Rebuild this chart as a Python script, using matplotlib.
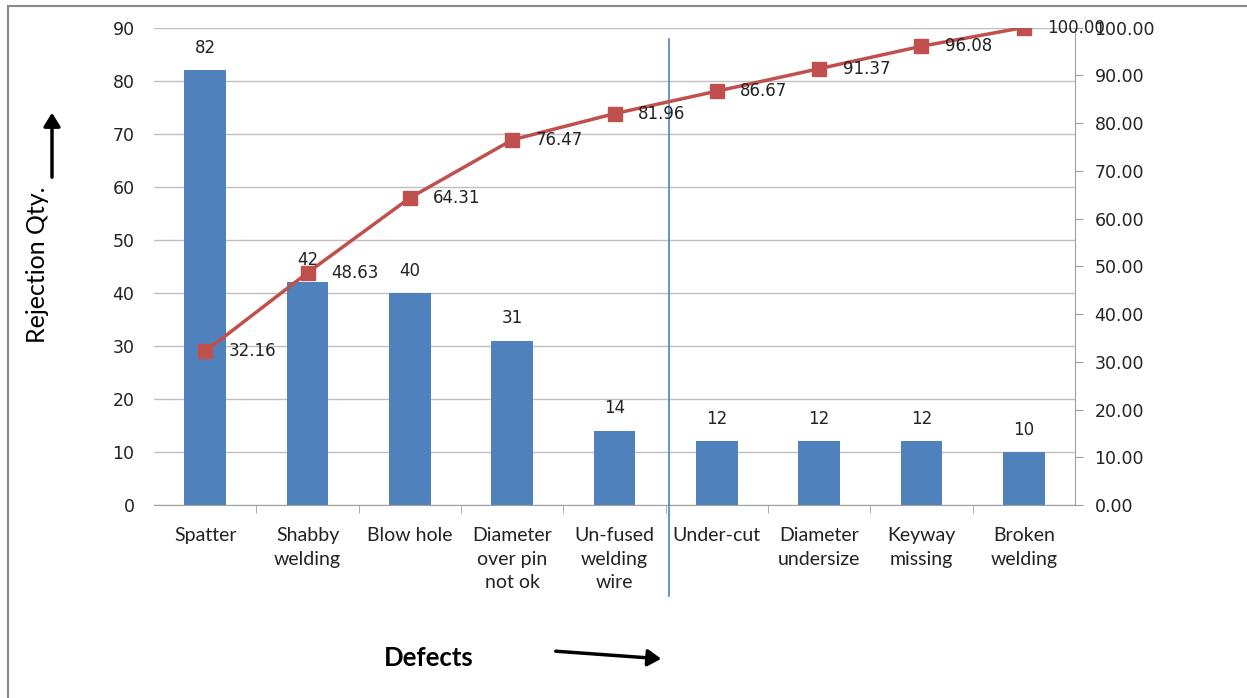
import matplotlib
matplotlib.use("Agg")
import matplotlib.pyplot as plt
from matplotlib.patches import Rectangle, FancyArrowPatch

categories = ["Spatter", "Shabby\nwelding", "Blow hole", "Diameter\nover pin\nnot ok",
              "Un-fused\nwelding\nwire", "Under-cut", "Diameter\nundersize",
              "Keyway\nmissing", "Broken\nwelding"]
rejections = [82, 42, 40, 31, 14, 12, 12, 12, 10]
cumulative_pct = [32.16, 48.63, 64.31, 76.47, 81.96, 86.67, 91.37, 96.08, 100.00]
left_ticks = list(range(0, 91, 10))
right_ticks = list(range(0, 101, 10))

bar_color = "#4F81BD"
line_color = "#C0504D"
grid_color = "#BFBFBF"
axis_color = "#A0A0A0"
label_font = ["Lato", "DejaVu Sans"]
num_font = ["DejaVu Sans"]

fig = plt.figure(figsize=(12.47, 6.98), dpi=100)
ax = fig.add_axes([154 / 1247, 0.2765, (1075 - 154) / 1247, 0.9606 - 0.2765])
x = list(range(len(categories)))

ax.bar(x, rejections, width=0.41, color=bar_color, zorder=2)
ax.set_xlim(-0.5, len(categories) - 0.5)
ax.set_ylim(0, 90)
ax.set_yticks(left_ticks)
ax.yaxis.grid(True, color=grid_color, linewidth=1, zorder=0)
ax.set_axisbelow(True)
for s in ("top", "left", "right"):
    ax.spines[s].set_visible(False)
ax.spines["bottom"].set_color(axis_color)
ax.tick_params(axis="y", length=0, pad=14, labelsize=12.5, colors="#222222")
for lbl in ax.get_yticklabels():
    lbl.set_family(num_font)
ax.set_xticks(x)
ax.set_xticklabels(categories, fontsize=14, family=label_font, linespacing=1.45,
                   va="top", color="#222222")
ax.tick_params(axis="x", length=0, pad=16)
ax.set_xticks([i + 0.5 for i in x[:-1]], minor=True)
ax.tick_params(axis="x", which="minor", length=6, color=axis_color, direction="out")

for xi, v in zip(x, rejections):
    ax.text(xi, v + 2.5, str(v), ha="center", va="bottom", fontsize=12,
            family=num_font, color="#222222")

ax2 = ax.twinx()
ax2.set_ylim(0, 100)
ax2.set_yticks(right_ticks)
ax2.set_yticklabels([f"{t:.2f}" for t in right_ticks], family=num_font)
ax2.tick_params(axis="y", length=6, color=axis_color, labelsize=12.5, colors="#222222", pad=8)
for s in ("top", "left", "bottom"):
    ax2.spines[s].set_visible(False)
ax2.spines["right"].set_color(axis_color)
ax2.plot(x, cumulative_pct, color=line_color, linewidth=2.5, marker="s",
         markersize=10, markeredgecolor=line_color, zorder=3)
for xi, v in zip(x, cumulative_pct):
    ax2.text(xi + 0.23, v, f"{v:.2f}", ha="left", va="center", fontsize=12,
             family=num_font, color="#222222")

# cut-off line between the vital few and the rest
ax.plot([4.53, 4.53], [-0.19, 0.975], transform=ax.get_xaxis_transform(),
        color="#4F81BD", linewidth=1.2, clip_on=False, zorder=4)

fig.text(38 / 1247, 1 - 265 / 698, "Rejection Qty.", rotation=90, ha="center",
         va="center", fontsize=18, family=label_font)
fig.text(429 / 1247, 1 - 658 / 698, "Defects", ha="center", va="center",
         fontsize=18.5, fontweight="bold", family=label_font)

up = FancyArrowPatch((52 / 1247, 1 - 180 / 698), (52 / 1247, 1 - 110 / 698),
                     transform=fig.transFigure, arrowstyle="-|>,head_length=8,head_width=5",
                     color="black", linewidth=2.5, mutation_scale=1)
right = FancyArrowPatch((553 / 1247, 1 - 651 / 698), (664 / 1247, 1 - 659 / 698),
                        transform=fig.transFigure, arrowstyle="-|>,head_length=8,head_width=5",
                        color="black", linewidth=2.5, mutation_scale=1)
fig.patches.extend([up, right])

fig.patches.append(Rectangle((8 / 1247, -0.1), 1.2, 1 - 6 / 698 + 0.1,
                             transform=fig.transFigure, fill=False,
                             edgecolor="#888888", linewidth=1.5))

fig.savefig("out.png", dpi=100)
